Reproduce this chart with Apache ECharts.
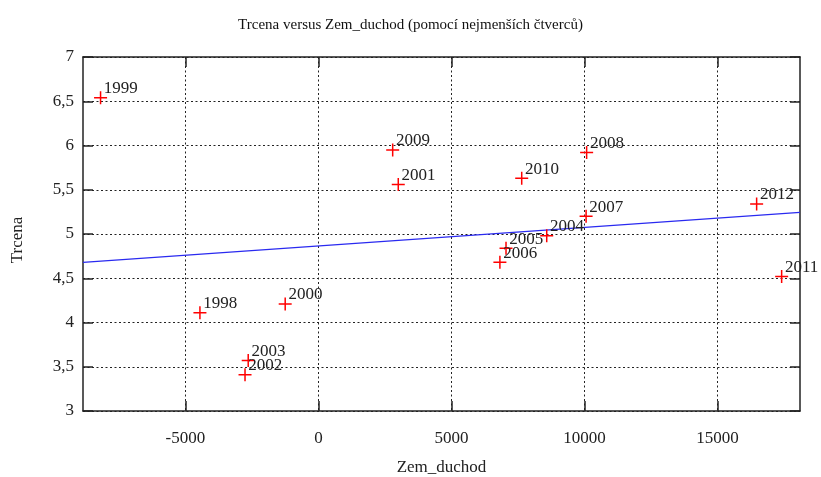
<!DOCTYPE html>
<html>
<head>
<meta charset="utf-8">
<script src="https://cdn.jsdelivr.net/npm/echarts@6/dist/echarts.min.js"></script>
<style>
html,body{margin:0;padding:0;background:#fff;}
#chart{width:821px;height:477px;}
</style>
</head>
<body>
<div id="chart"></div>
<script>
// Data
const years = ['1998','1999','2000','2001','2002','2003','2004','2005','2006','2007','2008','2009','2010','2011','2012'];
const zemDuchod = [-4455, -8190, -1250, 3000, -2760, -2640, 8580, 7050, 6820, 10060, 10080, 2790, 7640, 17410, 16470];
const trcena = [4.11, 6.54, 4.21, 5.56, 3.41, 3.57, 4.98, 4.84, 4.68, 5.20, 5.92, 5.95, 5.63, 4.52, 5.34];
// Least-squares fit line endpoints
const fitX = [-8850, 18100];
const fitY = [4.68, 5.245];
const xTicks = [-5000, 0, 5000, 10000, 15000];
const xMin = -8850, xMax = 18100;
const yMin = 3, yMax = 7, yStep = 0.5;

const FONT = 'Liberation Serif';
const scatterData = zemDuchod.map((x, i) => [x, trcena[i]]);
const fitData = fitX.map((x, i) => [x, fitY[i]]);

const gridLine = { show: true, lineStyle: { color: '#222', width: 1, type: [2, 2.5] } };
const axisLineStyle = { show: true, onZero: false, lineStyle: { color: '#222', width: 1.5 } };

const chart = echarts.init(document.getElementById('chart'), null, { renderer: 'canvas' });
chart.setOption({
  animation: false,
  backgroundColor: '#fff',
  title: {
    text: 'Trcena versus Zem_duchod (pomocí nejmenších čtverců)',
    left: 'center', top: 13,
    textStyle: { fontFamily: FONT, fontSize: 15, fontWeight: 'normal', color: '#111' }
  },
  grid: { left: 83, right: 21, top: 57, bottom: 66, containLabel: false, outerBoundsMode: 'none' },
  xAxis: [{
    type: 'value', min: xMin, max: xMax, position: 'bottom',
    name: 'Zem_duchod', nameLocation: 'middle', nameGap: 48,
    nameTextStyle: { fontFamily: FONT, fontSize: 17, color: '#222' },
    axisLine: axisLineStyle,
    axisTick: { show: true, inside: true, length: 10, customValues: xTicks, lineStyle: { color: '#222', width: 1.5 } },
    axisLabel: { customValues: xTicks, fontFamily: FONT, fontSize: 17, color: '#222', margin: 19,
      formatter: v => String(v) },
    splitLine: gridLine
  }, {
    type: 'value', min: xMin, max: xMax, position: 'top',
    axisLine: axisLineStyle,
    axisTick: { show: true, inside: true, length: 10, customValues: xTicks, lineStyle: { color: '#222', width: 1.5 } },
    axisLabel: { show: false, customValues: xTicks },
    splitLine: { show: false }
  }],
  yAxis: [{
    type: 'value', min: yMin, max: yMax, interval: yStep, position: 'left',
    name: 'Trcena', nameLocation: 'middle', nameGap: 57, nameRotate: 90,
    nameTextStyle: { fontFamily: FONT, fontSize: 17, color: '#222', padding: [0, 12, 0, 0] },
    axisLine: axisLineStyle,
    axisTick: { show: true, inside: true, length: 10, lineStyle: { color: '#222', width: 1.5 } },
    axisLabel: { fontFamily: FONT, fontSize: 17, color: '#222', margin: 9,
      formatter: v => String(v).replace('.', ',') },
    splitLine: gridLine
  }, {
    type: 'value', min: yMin, max: yMax, interval: yStep, position: 'right',
    axisLine: axisLineStyle,
    axisTick: { show: true, inside: true, length: 10, lineStyle: { color: '#222', width: 1.5 } },
    axisLabel: { show: false },
    splitLine: { show: false }
  }],
  series: [{
    type: 'line',
    data: fitData,
    xAxisIndex: 0, yAxisIndex: 0,
    symbol: 'none',
    lineStyle: { color: '#2a2af0', width: 1.2 },
    z: 3
  }, {
    type: 'scatter',
    data: scatterData,
    xAxisIndex: 0, yAxisIndex: 0,
    symbol: 'path://M0,6L12,6M6,0L6,12',
    symbolSize: 13,
    itemStyle: { color: 'rgba(0,0,0,0)', borderColor: '#ff0000', borderWidth: 1.5, opacity: 1 },
    label: {
      show: true, position: 'right', distance: 0, offset: [-4, -9],
      formatter: p => years[p.dataIndex],
      fontFamily: FONT, fontSize: 17, color: '#222'
    },
    z: 4
  }]
});
</script>
</body>
</html>
